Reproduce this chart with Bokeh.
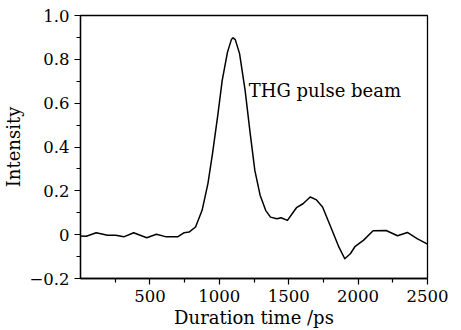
from bokeh.plotting import figure
from bokeh.models import FixedTicker, Range1d, Label
from bokeh.embed import file_html
from bokeh.resources import INLINE

# Data
duration_ps = [0, 42, 113, 195, 254, 312, 383, 477, 547, 618, 700, 747, 782, 829,
               876, 918, 951, 989, 1021, 1059, 1087, 1099, 1115, 1146, 1186, 1223,
               1256, 1294, 1334, 1369, 1415, 1445, 1491, 1530, 1556, 1603, 1655, 1697,
               1744, 1803, 1862, 1904, 1944, 1979, 2038, 2108, 2202, 2284, 2355, 2425,
               2500]
intensity = [-0.006, -0.007, 0.009, -0.003, -0.003, -0.010, 0.009, -0.014, 0.002, -0.010,
             -0.010, 0.009, 0.012, 0.035, 0.111, 0.233, 0.370, 0.544, 0.704, 0.833,
             0.890, 0.898, 0.890, 0.826, 0.658, 0.460, 0.293, 0.180, 0.111, 0.080,
             0.073, 0.077, 0.065, 0.100, 0.123, 0.141, 0.172, 0.160, 0.126, 0.035,
             -0.057, -0.110, -0.087, -0.053, -0.026, 0.018, 0.019, -0.005, 0.010,
             -0.018, -0.043]

x_ticks = [500, 1000, 1500, 2000, 2500]
x_minor = [250, 750, 1250, 1750, 2250]
y_ticks = [-0.2, 0.0, 0.2, 0.4, 0.6, 0.8, 1.0]
y_tick_labels = ["\u22120.2", "0", "0.2", "0.4", "0.6", "0.8", "1.0"]
y_minor = [-0.1, 0.1, 0.3, 0.5, 0.7, 0.9]

FONT = "DejaVu Serif"

p = figure(width=461, height=330, output_backend="svg", toolbar_location=None,
           x_range=Range1d(0, 2500), y_range=Range1d(-0.2, 1.0),
           min_border_left=73, min_border_right=34, min_border_top=15, min_border_bottom=52)
p.background_fill_color = "white"
p.border_fill_color = "white"
p.outline_line_color = "black"
p.outline_line_width = 1.3
p.xgrid.visible = False
p.ygrid.visible = False

p.line(duration_ps, intensity, line_color="black", line_width=1.5, line_join="round")

for ax in (p.xaxis[0], p.yaxis[0]):
    ax.axis_line_color = "black"
    ax.axis_line_width = 1.3
    ax.major_tick_in = 0
    ax.major_tick_out = 6
    ax.minor_tick_in = 0
    ax.minor_tick_out = 4
    ax.major_tick_line_width = 1.2
    ax.minor_tick_line_width = 1.2
    ax.major_label_text_font = FONT
    ax.major_label_text_font_size = "16.5px"
    ax.major_label_text_color = "black"
    ax.axis_label_text_font = FONT
    ax.axis_label_text_font_size = "18px"
    ax.axis_label_text_font_style = "normal"
    ax.axis_label_text_color = "black"

p.xaxis[0].ticker = FixedTicker(ticks=x_ticks, minor_ticks=x_minor)
p.yaxis[0].ticker = FixedTicker(ticks=y_ticks, minor_ticks=y_minor)
p.yaxis[0].major_label_overrides = {t: s for t, s in zip(y_ticks, y_tick_labels)}
p.xaxis[0].axis_label = "Duration time /ps"
p.yaxis[0].axis_label = "Intensity"
p.xaxis[0].major_label_standoff = 5
p.xaxis[0].axis_label_standoff = 2
p.yaxis[0].major_label_standoff = 5
p.yaxis[0].axis_label_standoff = 2

p.add_layout(Label(x=1212, y=0.658, text="THG pulse beam", text_font=FONT,
                   text_font_size="18px", text_color="black", text_baseline="alphabetic"))

open("out.html", "w").write(file_html(p, INLINE))
